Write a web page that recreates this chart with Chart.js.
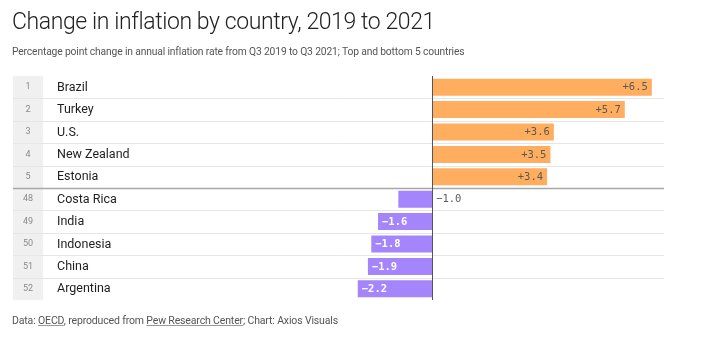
<!DOCTYPE html>
<html><head><meta charset="utf-8">
<script src="https://cdn.jsdelivr.net/npm/chart.js@4"></script>
<style>
html,body{margin:0;padding:0;background:#fff;width:720px;height:357px;overflow:hidden;}
#wrap{position:absolute;left:0;top:0;width:720px;height:357px;}
.t{position:absolute;left:12px;font-family:Roboto,"Open Sans",sans-serif;white-space:nowrap;}
#title{top:8px;font-size:23px;font-weight:300;color:#222;letter-spacing:-0.4px;}
#sub{top:45px;font-size:10.3px;color:#555;letter-spacing:-0.15px;}
#foot{top:314px;font-size:10.5px;color:#555;letter-spacing:-0.15px;}
#foot u{text-decoration:underline;text-decoration-color:#999;}
</style></head>
<body>
<div id="wrap"><canvas id="c" width="720" height="357"></canvas></div>
<div class="t" id="title">Change in inflation by country, 2019 to 2021</div>
<div class="t" id="sub">Percentage point change in annual inflation rate from Q3 2019 to Q3 2021; Top and bottom 5 countries</div>
<div class="t" id="foot">Data: <u>OECD</u>, reproduced from <u>Pew Research Center</u>; Chart: Axios Visuals</div>
<script>
const countries = ["Brazil","Turkey","U.S.","New Zealand","Estonia","Costa Rica","India","Indonesia","China","Argentina"];
const ranks = ["1","2","3","4","5","48","49","50","51","52"];
const changes = [6.5,5.7,3.6,3.5,3.4,-1.0,-1.6,-1.8,-1.9,-2.2];

const ORANGE = "#ffad5e", PURPLE = "#a585fb";

const tablePlugin = {
  id: "tablePlugin",
  beforeDatasetsDraw(chart) {
    const {ctx, chartArea: a, scales: {x, y}} = chart;
    ctx.save();
    ctx.fillStyle = "#f0f0f0";
    ctx.fillRect(a.left, a.top, 30, a.bottom - a.top);
    const n = countries.length;
    for (let i = 1; i < n; i++) {
      const yy = (y.getPixelForValue(i - 1) + y.getPixelForValue(i)) / 2;
      if (i === 5) {
        ctx.strokeStyle = "#a8a8a8"; ctx.lineWidth = 1.5;
      } else {
        ctx.strokeStyle = "#e6e6e6"; ctx.lineWidth = 1;
      }
      ctx.beginPath();
      ctx.moveTo(a.left, Math.round(yy) + 0.5);
      ctx.lineTo(a.right, Math.round(yy) + 0.5);
      ctx.stroke();
    }
    ctx.textBaseline = "middle";
    for (let i = 0; i < n; i++) {
      const yy = y.getPixelForValue(i);
      ctx.fillStyle = "#8a8a8a";
      ctx.font = "9px Roboto";
      ctx.textAlign = "center";
      ctx.fillText(ranks[i], a.left + 15, yy);
      ctx.fillStyle = "#1e1e1e";
      ctx.font = "12.5px Roboto";
      ctx.textAlign = "left";
      ctx.fillText(countries[i], a.left + 44, yy + 0.5);
    }
    ctx.restore();
  },
  afterDatasetsDraw(chart) {
    const {ctx, chartArea: a, scales: {x, y}} = chart;
    const x0 = x.getPixelForValue(0);
    ctx.save();
    ctx.strokeStyle = "#555"; ctx.lineWidth = 1;
    ctx.beginPath();
    ctx.moveTo(Math.round(x0) + 0.5, a.top);
    ctx.lineTo(Math.round(x0) + 0.5, a.bottom);
    ctx.stroke();
    ctx.textBaseline = "middle";
    changes.forEach((v, i) => {
      const yy = y.getPixelForValue(i) + 0.5;
      const xe = x.getPixelForValue(v);
      const txt = (v > 0 ? "+" : "\u2212") + Math.abs(v).toFixed(1);
      if (v > 0) {
        ctx.font = "10.5px 'DejaVu Sans Mono'";
        ctx.fillStyle = "#5a5a5a";
        ctx.textAlign = "right";
        ctx.fillText(txt, xe - 4, yy);
      } else if (Math.abs(xe - x0) > 40) {
        ctx.font = "bold 10.5px 'DejaVu Sans Mono'";
        ctx.fillStyle = "#ffffff";
        ctx.textAlign = "left";
        ctx.fillText(txt, xe + 4, yy);
      } else {
        ctx.font = "10.5px 'DejaVu Sans Mono'";
        ctx.fillStyle = "#5a5a5a";
        ctx.textAlign = "left";
        ctx.fillText(txt, x0 + 4, yy);
      }
    });
    ctx.restore();
  }
};

new Chart(document.getElementById("c"), {
  type: "bar",
  data: {
    labels: countries,
    datasets: [{
      data: changes,
      backgroundColor: changes.map(v => v >= 0 ? ORANGE : PURPLE),
      borderWidth: 0,
      barPercentage: 0.76,
      categoryPercentage: 1
    }]
  },
  options: {
    indexAxis: "y",
    responsive: false,
    animation: false,
    devicePixelRatio: 1,
    layout: {padding: {left: 13, right: 56, top: 76, bottom: 57}},
    plugins: {legend: {display: false}, tooltip: {enabled: false}},
    scales: {
      x: {display: false, min: -12.4, max: 6.86},
      y: {display: false, offset: true}
    }
  },
  plugins: [tablePlugin]
});
</script>
</body></html>
